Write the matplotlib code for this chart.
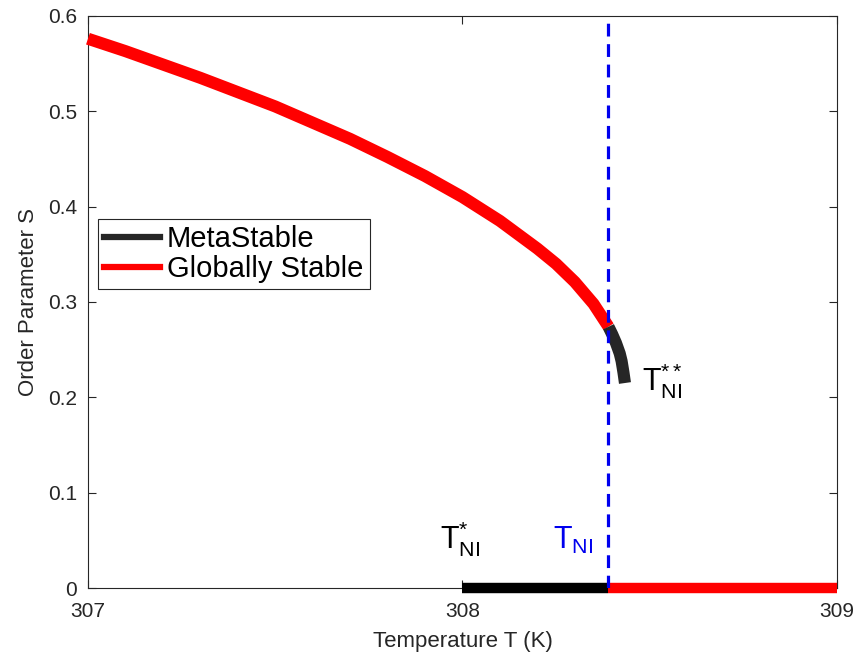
import matplotlib.pyplot as plt
from matplotlib.lines import Line2D

plt.rcParams['font.family'] = ['Liberation Sans', 'DejaVu Sans']
plt.rcParams['mathtext.fontset'] = 'custom'
plt.rcParams['mathtext.rm'] = 'Liberation Sans'
plt.rcParams['mathtext.it'] = 'Liberation Sans'

# globally stable nematic branch
T_stable = [307.0, 307.1, 307.2, 307.3, 307.4, 307.5, 307.6, 307.7, 307.8, 307.9,
            308.0, 308.1, 308.2, 308.25, 308.3, 308.35, 308.39]
S_stable = [0.576, 0.563, 0.549, 0.535, 0.520, 0.505, 0.488, 0.471, 0.452, 0.432,
            0.410, 0.385, 0.356, 0.340, 0.321, 0.298, 0.274]

# metastable nematic branch
T_meta = [308.39, 308.40, 308.41, 308.42, 308.425, 308.43, 308.434]
S_meta = [0.274, 0.266, 0.257, 0.246, 0.238, 0.226, 0.215]

# isotropic branch (S = 0)
T_iso_meta = [308.0, 308.39]
T_iso_stable = [308.39, 309.0]

T_NI = 308.39

axcol = '#262626'

fig = plt.figure(figsize=(8.54, 6.6), dpi=100)
ax = fig.add_axes([0.103, 0.109, 0.877, 0.867])

ax.plot(T_stable, S_stable, color='red', lw=8.7, solid_capstyle='butt', clip_on=False, zorder=3)
ax.plot(T_meta, S_meta, color='#262626', lw=8.7, solid_capstyle='butt', clip_on=False, zorder=3)
ax.plot(T_iso_meta, [0, 0], color='black', lw=7.5, solid_capstyle='butt', clip_on=False, zorder=3)
ax.plot(T_iso_stable, [0, 0], color='red', lw=7.5, solid_capstyle='butt', clip_on=False, zorder=3)
ax.axvline(T_NI, color='#0000ee', lw=2.3, ls=(0, (4, 2.4)), zorder=4)

ax.text(308.48, 0.207, r'$\mathrm{T^{**}_{NI}}$', fontsize=22, color='black')
ax.text(307.94, 0.041, r'$\mathrm{T^{*}_{NI}}$', fontsize=22, color='black')
ax.text(308.243, 0.041, r'$\mathrm{T_{NI}}$', fontsize=22, color='#0000ee')

ax.set_xlim(307, 309)
ax.set_ylim(0, 0.6)
ax.set_xticks([307, 308, 309])
ax.set_yticks([0, 0.1, 0.2, 0.3, 0.4, 0.5, 0.6])
ax.set_yticklabels(['0', '0.1', '0.2', '0.3', '0.4', '0.5', '0.6'])
ax.tick_params(direction='in', top=True, right=True, labelsize=15, colors=axcol,
               length=6, width=0.8)
ax.tick_params(axis='x', pad=10)
ax.tick_params(axis='y', pad=8)
for sp in ax.spines.values():
    sp.set_color(axcol)
    sp.set_linewidth(0.8)

ax.set_xlabel('Temperature T (K)', fontsize=16, color=axcol, labelpad=7)
ax.set_ylabel('Order Parameter S', fontsize=16, color=axcol, labelpad=6)

handles = [Line2D([], [], color='#262626', lw=4.5),
           Line2D([], [], color='red', lw=4.5)]
leg = ax.legend(handles, ['MetaStable', 'Globally Stable'], loc='upper left',
                bbox_to_anchor=(0.013, 0.645), fontsize=21, fancybox=False,
                framealpha=1, edgecolor=axcol, handlelength=1.9, handletextpad=0.25,
                borderpad=0.22, labelspacing=0.05, borderaxespad=0)
leg.get_frame().set_linewidth(0.8)

fig.savefig('out.png', dpi=100)
